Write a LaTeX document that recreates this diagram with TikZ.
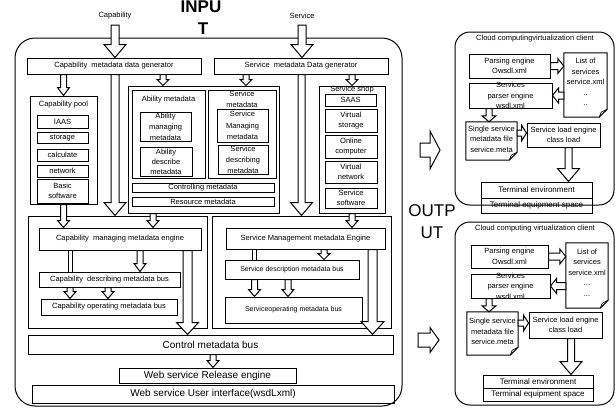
\documentclass[tikz,border=0pt]{standalone}
\usepackage{fontspec}
\setmainfont{Liberation Sans}
\usetikzlibrary{calc}
\newcommand\fs[2]{\fontsize{#1}{#2}\selectfont}
\tikzset{
 box/.style={draw, line width=1pt, inner sep=0pt, rectangle},
 lbl/.style={inner sep=0pt, align=center, font={\fs{7.5}{10.5}}},
 big/.style={inner sep=0pt, align=center, font={\fs{17}{20}}},
 barrow/.style={draw, fill=white, line width=1pt, line join=miter},
 frame/.style={draw, line width=1pt, rounded corners=20pt, inner sep=0pt, rectangle},
 cframe/.style={frame, rounded corners=15pt},
 docn/.style={inner sep=0pt, rectangle},
}
% box: [text opts]{x1}{y1}{x2}{y2}{name}{text}
\newcommand\bx[7][]{\node[box,minimum width={(#4-#2)*1pt},minimum height={(#5-#3)*1pt}] (#6) at ({(#2+#4)/2},{(#3+#5)/2}) {};
 \node[lbl,#1] (#6-t) at (#6.center) {#7};}
% document with folded corner
\newcommand\docbx[7][]{\node[docn,minimum width={(#4-#2)*1pt},minimum height={(#5-#3)*1pt}] (#6) at ({(#2+#4)/2},{(#3+#5)/2}) {};
 \draw[line width=1pt] (#6.north west) -- (#6.north east) -- ([yshift=8pt]#6.south east) -- ([xshift=-8pt]#6.south east) -- (#6.south west) -- cycle;
 \draw[line width=0.7pt] ([xshift=-8pt]#6.south east) -- ([xshift=-6pt,yshift=5pt]#6.south east) -- ([yshift=8pt]#6.south east);
 \node[lbl,#1] (#6-t) at (#6.center) {#7};}
% hollow down arrow: from, to, shaft half, head half, head length
\newcommand\varr[5]{\draw[barrow] let \p1=(#1),\p2=(#2) in (\x1-#3,\y1) -- (\x1-#3,\y2+#5) -- (\x1-#4,\y2+#5) -- (\x1,\y2) -- (\x1+#4,\y2+#5) -- (\x1+#3,\y2+#5) -- (\x1+#3,\y1) -- cycle;}
% hollow horizontal arrow
\newcommand\harr[5]{\draw[barrow] let \p1=(#1),\p2=(#2),\n1={sign(\x2-\x1)} in (\x1,\y1+#3) -- ({\x2-\n1*#5},\y1+#3) -- ({\x2-\n1*#5},\y1+#4) -- (\x2,\y1) -- ({\x2-\n1*#5},\y1-#4) -- ({\x2-\n1*#5},\y1-#3) -- (\x1,\y1-#3) -- cycle;}
% headless double shaft
\newcommand\twoline[3]{\draw[line width=1pt] let \p1=(#1),\p2=(#2) in (\x1-#3,\y1) -- (\x1-#3,\y2) (\x1+#3,\y1) -- (\x1+#3,\y2);}

\begin{document}
\begin{tikzpicture}[x=1pt,y=-1pt]
\useasboundingbox (0,0) rectangle (615,408);

% ---- titles
\node[big,font={\fs{17}{20}\bfseries}] (inpu) at (201,7) {INPU};
\node[big,font={\fs{17}{20}\bfseries}] (inpt) at (203,29) {T};
\node[big] (outp) at (432,211) {OUTP};
\node[big] (outt) at (432,233) {UT};
\node[lbl] (caplbl) at (115,16) {Capability};
\node[lbl] (servlbl) at (302,16) {Service};

% ---- main frame
\node[frame,minimum width=387pt,minimum height=368pt] (main) at (208.5,222) {};

\bx{27}{58}{201}{74}{capgen}{Capability\ \ metadata data generator}
\bx{214}{58}{388}{74}{servgen}{Service\ \ metadata Data generator}

% capability pool
\bx{30}{96}{97}{204}{pool}{}
\node[lbl] (pooll) at (63.5,104.5) {Capability pool};
\bx{37}{115}{88}{128}{iaas}{IAAS}
\bx{37}{132}{88}{143}{stor}{storage}
\bx{37}{149}{88}{161}{calc}{calculate}
\bx{37}{165}{88}{177}{netw}{network}
\bx{37}{179}{88}{203}{basic}{Basic\\software}

% ability / service metadata
\bx{128}{86}{279}{213}{outer}{}
\bx{132}{90}{205}{178}{abil}{}
\node[lbl] (abill) at (168.5,100) {Ability metadata};
\bx[font={\fs{7.5}{11}}]{140}{112}{191}{141}{abman}{Ability\\managing\\metadata}
\bx[font={\fs{7.5}{10}}]{140}{147}{192}{176}{abdesc}{Ability\\describe\\metadata}
\bx{208}{90}{276}{178}{smeta}{}
\node[lbl,font={\fs{7.5}{11}}] (smetal) at (242,99) {Service\\metadata};
\bx[font={\fs{7.5}{11.5}}]{217}{109}{268}{142}{sman}{Service\\Managing\\metadata}
\bx[font={\fs{7.5}{11}}]{218}{145}{268}{174}{sdesc}{Service\\describing\\metadata}
\bx{132}{183}{274}{192}{ctrl}{Controlling metadata}
\bx{132}{197}{274}{206}{res}{Resource metadata}

% service shop
\bx{319}{86}{385}{213}{shop}{}
\node[lbl] (shopl) at (352,90) {Service shop};
\bx{325}{94}{376}{106}{saas}{SAAS}
\bx{325}{109}{377}{132}{vstor}{Virtual\\storage}
\bx{325}{135}{377}{158}{online}{Online\\computer}
\bx{325}{161}{377}{183}{vnet}{Virtual\\network}
\bx{325}{188}{377}{208}{ssoft}{Service\\software}

% lower frames
\bx{28}{216}{207}{328}{lleft}{}
\bx{212}{216}{391}{328}{lright}{}
\bx{39}{228}{201}{250}{capeng}{Capability\ \ managing metadata engine}
\bx{226}{228}{385}{249}{serveng}{Service Management metadata Engine}
\bx{39}{272}{180}{287}{capdesc}{Capability\ \ describing metadata bus}
\bx{41}{299}{177}{315}{capop}{Capability operating metadata bus}
\bx[font={\fs{7}{9}}]{225}{260}{359}{279}{servdesc}{Service description metadata bus}
\bx[font={\fs{7}{9}}]{225}{297}{362}{323}{servop}{Serviceoperating metadata bus}
\bx[font={\fs{10}{12}}]{28}{335}{393}{354}{cbus}{Control metadata bus}
\bx[font={\fs{10}{12}}]{119}{368}{296}{383}{rel}{Web service Release engine}
\bx[font={\fs{10}{12}}]{32}{385}{394}{403}{ui}{Web service User interface(wsdLxml)}

% ---- arrows, left part
\coordinate (capin) at (115,25);
\coordinate (servin) at (302,25);
\coordinate (xa) at (163,0);
\coordinate (xb) at (246,0);
\coordinate (xc) at (115,0);
\coordinate (xd) at (301.5,0);
\coordinate (xe) at (153,0);
\coordinate (xg) at (70,0);
\coordinate (xh) at (140,0);
\coordinate (xi) at (187.5,0);
\coordinate (xj) at (108,0);
\coordinate (xk) at (254.5,0);
\coordinate (xl) at (324,0);
\coordinate (xm) at (288,0);
\coordinate (xn) at (372.5,0);
\coordinate (xo) at (213,0);

\varr{capin}{capin |- capgen.north}{4pt}{11pt}{13pt}
\varr{servin}{servin |- servgen.north}{4pt}{11pt}{13pt}
\varr{capgen.south -| pool.north}{pool.north}{3pt}{6pt}{8pt}
\varr{capgen.south -| xa}{outer.north -| xa}{3pt}{6pt}{6pt}
\varr{servgen.south -| xb}{outer.north -| xb}{3pt}{6pt}{6pt}
\varr{servgen.south -| shop.north}{shop.north}{3pt}{6pt}{6pt}
\varr{capgen.south -| xc}{lleft.north -| xc}{4pt}{11pt}{13pt}
\varr{servgen.south -| xd}{lright.north -| xd}{3.5pt}{11pt}{13pt}
\varr{pool.south}{capeng.north -| pool.south}{3pt}{6pt}{7pt}
\varr{outer.south -| xe}{capeng.north -| xe}{3pt}{6pt}{7pt}
\varr{shop.south}{serveng.north -| shop.south}{3pt}{6pt}{7pt}
\twoline{capeng.south -| xg}{capdesc.north -| xg}{2pt}
\varr{capeng.south -| xh}{capdesc.north -| xh}{3pt}{6pt}{8pt}
\varr{capeng.south -| xi}{cbus.north -| xi}{4.5pt}{11pt}{12pt}
\varr{capdesc.south -| xg}{capop.north -| xg}{3pt}{6pt}{7pt}
\varr{capdesc.south -| xj}{capop.north -| xj}{3pt}{6pt}{7pt}
\twoline{serveng.south -| xk}{servdesc.north -| xk}{1.7pt}
\varr{serveng.south -| xl}{servdesc.north -| xl}{3pt}{6pt}{6pt}
\varr{servdesc.south -| xk}{servop.north -| xk}{3pt}{6pt}{7pt}
\varr{servdesc.south -| xm}{servop.north -| xm}{3pt}{6pt}{7pt}
\varr{serveng.south -| xn}{cbus.north -| xn}{4.5pt}{11.5pt}{13pt}
\varr{cbus.south -| xo}{rel.north -| xo}{3pt}{6pt}{7pt}

% ---- output arrows
\coordinate (o1s) at (420,150);
\coordinate (o1e) at (440,150);
\coordinate (o2s) at (418,340);
\coordinate (o2e) at (439,340);
\harr{o1s}{o1e}{7pt}{19pt}{10pt}
\harr{o2s}{o2e}{7pt}{12.5pt}{9pt}

% ---- client 1
\node[cframe,minimum width=159pt,minimum height=173pt] (cl1) at (534.5,118.5) {};
\node[lbl] (cl1t) at (535,39) {Cloud computingvirtualization client};
\bx{469}{54}{550}{78}{pe1}{Parsing engine\\Owsdl.xml}
\docbx[yshift=3pt]{564}{53}{607}{117}{ls1}{List of\\services\\service.xml\\..\\..}
\bx{469}{83}{552}{108}{sp1}{Services\\parser engine\\wsdl.xml}
\docbx[yshift=2pt]{466}{122}{517}{160}{ss1}{Single service\\metadata file\\service.meta}
\bx{527}{123}{600}{147}{sl1}{Service load engine\\class load}
\bx[font={\fs{8}{10}}]{481}{182}{592}{198}{te1}{Terminal environment}
\bx[font={\fs{8}{10}}]{481}{198}{592}{213}{tq1}{Terminal equipment space}
\coordinate (xp) at (489,0);
\coordinate (yq) at (0,133);
\coordinate (xr) at (568.5,0);
\harr{pe1.east}{ls1.west |- pe1.east}{3.5pt}{7.5pt}{6pt}
\harr{ls1.west |- sp1.east}{sp1.east}{3.5pt}{7.5pt}{6pt}
\varr{sp1.south -| xp}{ss1.north -| xp}{3pt}{7pt}{6pt}
\harr{ss1.east |- yq}{sl1.west |- yq}{3pt}{8pt}{5pt}
\varr{sl1.south -| xr}{te1.north -| xr}{3.5pt}{11pt}{13pt}

% ---- client 2
\node[cframe,minimum width=159pt,minimum height=183pt] (cl2) at (534.5,313.5) {};
\node[lbl] (cl2t) at (535,228.5) {Cloud computing virtualization client};
\bx{471}{245}{548}{268}{pe2}{Parsing engine\\Owsdl.xml}
\docbx[yshift=3pt]{566}{243}{608}{308}{ls2}{List of\\services\\service.xml\\...\\...}
\bx{471}{274}{550}{298}{sp2}{Services\\parser engine\\wsdl.xml}
\docbx[yshift=2pt]{467}{312}{518}{355}{ss2}{Single service\\metadata file\\service.meta}
\bx{529}{312}{602}{338}{sl2}{Service load engine\\class load}
\bx[font={\fs{8}{10}}]{483}{375}{593}{388}{te2}{Terminal environment}
\bx[font={\fs{8}{10}}]{483}{388}{593}{401}{tq2}{Terminal equipment space}
\coordinate (xs) at (489,0);
\coordinate (yt) at (0,323);
\coordinate (xu) at (571,0);
\harr{pe2.east}{ls2.west |- pe2.east}{3.5pt}{7.5pt}{6pt}
\harr{ls2.west |- sp2.east}{sp2.east}{3.5pt}{7.5pt}{6pt}
\varr{sp2.south -| xs}{ss2.north -| xs}{3pt}{7pt}{6pt}
\harr{ss2.east |- yt}{sl2.west |- yt}{3pt}{8pt}{5pt}
\varr{sl2.south -| xu}{te2.north -| xu}{3.5pt}{11pt}{13pt}
\end{tikzpicture}
\end{document}
